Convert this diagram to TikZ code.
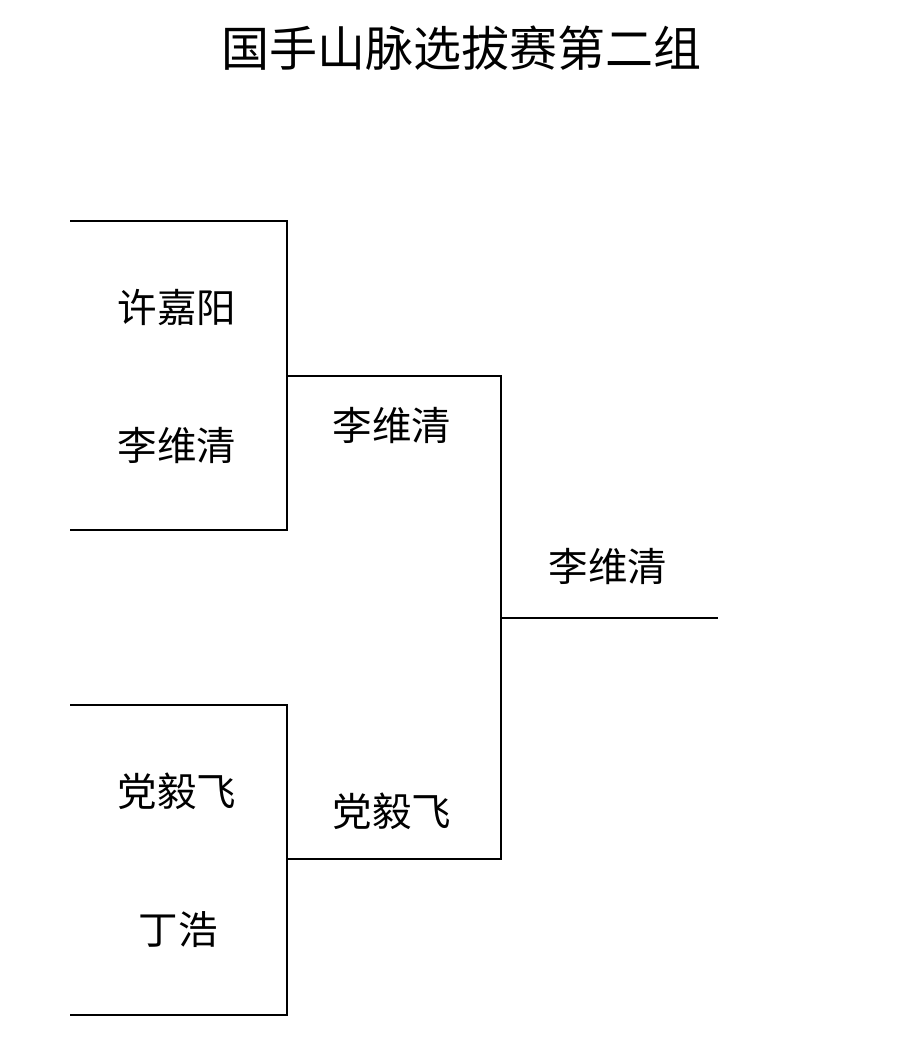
\documentclass[tikz,border=0pt]{standalone}
\usepackage{fontspec}
\newfontfamily\cjk{Noto Sans CJK SC}
\begin{document}
\begin{tikzpicture}[x=1pt,y=-1pt,
  ln/.style={line width=2.2pt,black},
  nm/.style={font=\cjk\fontsize{39.5}{44}\selectfont,inner sep=0pt},
  co/.style={inner sep=0pt,minimum size=0pt}]
\useasboundingbox (0,0) rectangle (898,1060);
\node[font=\cjk\fontsize{48}{52}\selectfont,inner sep=0pt] (title) at (461,48) {国手山脉选拔赛第二组};
% coordinates
\coordinate (a1) at (70,221); \coordinate (a2) at (287,221);
\coordinate (a3) at (287,530); \coordinate (a4) at (70,530);
\coordinate (b1) at (70,705); \coordinate (b2) at (287,705);
\coordinate (b3) at (287,1015); \coordinate (b4) at (70,1015);
\coordinate (m1) at (287,376); \coordinate (m2) at (501,376);
\coordinate (m3) at (501,859); \coordinate (m4) at (287,859);
\coordinate (f1) at (501,618); \coordinate (f2) at (718,618);
\draw[ln] (a1) -- (a2) -- (a3) -- (a4);
\draw[ln] (b1) -- (b2) -- (b3) -- (b4);
\draw[ln] (m1) -- (m2) -- (m3) -- (m4);
\draw[ln] (f1) -- (f2);
\node[nm] (n1) at (177,308) {许嘉阳};
\node[nm] (n2) at (177,446) {李维清};
\node[nm] (n3) at (392,426) {李维清};
\node[nm] (n4) at (177,791) {党毅飞};
\node[nm] (n5) at (178,930) {丁浩};
\node[nm] (n6) at (392,811) {党毅飞};
\node[nm] (n7) at (608,567) {李维清};
\end{tikzpicture}
\end{document}
